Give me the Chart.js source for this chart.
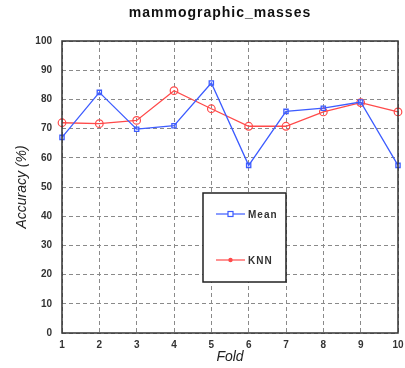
<!DOCTYPE html>
<html>
<head>
<meta charset="utf-8">
<script src="https://cdn.jsdelivr.net/npm/chart.js@4"></script>
<style>
  html, body { margin: 0; padding: 0; background: #fff; }
  #wrap { width: 405px; height: 368px; position: relative; }
</style>
</head>
<body>
<div id="wrap"><canvas id="chart" width="405" height="368"></canvas></div>
<script>
// data
const folds = ['1', '2', '3', '4', '5', '6', '7', '8', '9', '10'];
const meanAcc = [67, 82.4, 69.8, 71, 85.6, 57.4, 75.9, 77, 79.1, 57.4];
const knnAcc = [72, 71.7, 72.8, 83, 76.8, 70.8, 70.8, 75.7, 78.9, 75.7];

const BLUE = '#3d5cff';
const RED = '#ff4a4a';

// title, frame and legend box drawn on top
const decor = {
  id: 'decor',
  afterDraw(chart) {
    const ctx = chart.ctx;
    const a = chart.chartArea;
    ctx.save();
    // title
    ctx.fillStyle = '#111';
    ctx.font = 'bold 14px "Liberation Sans", Arial, sans-serif';
    ctx.textAlign = 'center';
    ctx.textBaseline = 'middle';
    ctx.letterSpacing = '1px';
    ctx.fillText('mammographic_masses', 220, 13);
    // frame
    ctx.strokeStyle = '#333';
    ctx.lineWidth = 1.5;
    ctx.strokeRect(a.left, a.top, a.right - a.left, a.bottom - a.top);
    // legend box
    const bx = a.left + 141, by = a.top + 152, bw = 83, bh = 89;
    ctx.fillStyle = '#fff';
    ctx.fillRect(bx, by, bw, bh);
    ctx.strokeStyle = '#222';
    ctx.lineWidth = 1.5;
    ctx.strokeRect(bx, by, bw, bh);
    const items = [
      { label: 'Mean', color: BLUE, y: by + 21, shape: 'rect' },
      { label: 'KNN', color: RED, y: by + 67, shape: 'dot' }
    ];
    items.forEach(it => {
      ctx.strokeStyle = it.color;
      ctx.lineWidth = 1.2;
      ctx.beginPath();
      ctx.moveTo(bx + 13, it.y);
      ctx.lineTo(bx + 42, it.y);
      ctx.stroke();
      if (it.shape === 'rect') {
        ctx.fillStyle = '#fff';
        ctx.fillRect(bx + 25, it.y - 2.5, 5, 5);
        ctx.strokeRect(bx + 25, it.y - 2.5, 5, 5);
      } else {
        ctx.fillStyle = it.color;
        ctx.beginPath();
        ctx.arc(bx + 27.5, it.y, 2.2, 0, Math.PI * 2);
        ctx.fill();
      }
      ctx.fillStyle = '#333';
      ctx.font = '600 10px "Liberation Sans", Arial, sans-serif';
      ctx.textAlign = 'left';
      ctx.textBaseline = 'middle';
      ctx.letterSpacing = '1px';
      ctx.fillText(it.label, bx + 45, it.y + 1);
    });
    ctx.restore();
  }
};

new Chart(document.getElementById('chart'), {
  type: 'line',
  data: {
    labels: folds,
    datasets: [
      {
        label: 'Mean', data: meanAcc, borderColor: BLUE, borderWidth: 1.3,
        pointStyle: 'rect', pointRadius: 3, pointBorderWidth: 1.3,
        pointBackgroundColor: 'rgba(255,255,255,0)', pointBorderColor: BLUE,
        tension: 0, fill: false
      },
      {
        label: 'KNN', data: knnAcc, borderColor: RED, borderWidth: 1.3,
        pointStyle: 'circle', pointRadius: 3.8, pointBorderWidth: 1.2,
        pointBackgroundColor: 'rgba(255,255,255,0)', pointBorderColor: RED,
        tension: 0, fill: false
      }
    ]
  },
  options: {
    responsive: false,
    animation: false,
    layout: { padding: { top: 41, right: 0, left: 0, bottom: 0 } },
    plugins: { legend: { display: false }, title: { display: false }, tooltip: { enabled: false } },
    scales: {
      x: {
        offset: false,
        afterFit: s => { s.height = 35; s.paddingRight = 7; },
        grid: { color: '#8a8a8a', lineWidth: 1, tickLength: 0, drawTicks: false },
        border: { display: false, dash: [4, 3] },
        ticks: { color: '#333', font: { size: 10, weight: 'bold', family: '"Liberation Sans", Arial' }, padding: 6, maxRotation: 0 },
        title: { display: true, text: 'Fold', color: '#222', font: { size: 14, style: 'italic', family: '"Liberation Sans", Arial' }, padding: { top: 0, bottom: 2 } }
      },
      y: {
        min: 0, max: 100,
        afterFit: s => { s.width = 62; },
        grid: { color: '#8a8a8a', lineWidth: 1, drawTicks: false },
        border: { display: false, dash: [4, 3] },
        ticks: { stepSize: 10, color: '#333', font: { size: 10, weight: 'bold', family: '"Liberation Sans", Arial' }, padding: 10 },
        title: { display: true, text: 'Accuracy (%)', color: '#222', font: { size: 14, style: 'italic', family: '"Liberation Sans", Arial' }, padding: { top: 14, bottom: 0 } }
      }
    }
  },
  plugins: [decor]
});
</script>
</body>
</html>
